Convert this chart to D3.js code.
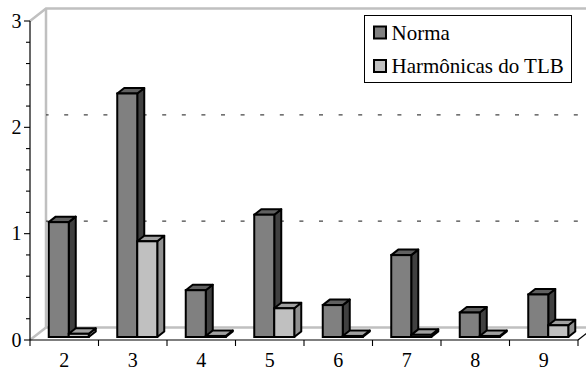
<!DOCTYPE html>
<html>
<head>
<meta charset="utf-8">
<script src="https://cdn.jsdelivr.net/npm/d3@7"></script>
<style>
  html, body { margin: 0; padding: 0; background: #fff; }
  svg { display: block; }
  svg text, #chart text { font-family: "Liberation Serif" !important; }
</style>
</head>
<body>
<svg id="chart" width="586" height="371" style="font-family: 'Liberation Serif'"></svg>
<script>
const categories = ["2", "3", "4", "5", "6", "7", "8", "9"];
const norma      = [1.08, 2.29, 0.44, 1.15, 0.30, 0.77, 0.23, 0.40];
const harmonicas = [0.03, 0.90, 0.01, 0.27, 0.01, 0.02, 0.01, 0.11];
const seriesNames = ["Norma", "Harmônicas do TLB"];
const yTickLabels = [0, 1, 2, 3];
const gridValues = [1, 2];

const FONT = '"Liberation Serif"';
const svg = d3.select("#chart");
const W = 586, H = 371;

const x = d3.scaleBand().domain(categories).range([30, 578]).padding(0);
const y = d3.scaleLinear().domain([0, 3]).range([340, 21]);

// depth projection
const wallDX = 16, wallDY = -12.5;      // back wall offset
const barOffX = 4.5, barOffY = -3;      // bar front face offset
const barDX = 7, barDY = -5.5;          // bar depth
const barW = 20;

const wallGray = "#c0c0c0";
const colors = {
  front: ["#808080", "#c0c0c0"],
  top:   ["#606060", "#a0a0a0"],
  side:  ["#404040", "#909090"]
};

// back wall & side wall (gray)
const g = svg.append("g");
const x0 = x.range()[0], x1 = x.range()[1];
const bx0 = x0 + wallDX;
const yb = v => y(v) + wallDY;
g.append("path")
  .attr("d", `M${x0},${y(3)} L${bx0},${yb(3)} L${W + 5},${yb(3)}`)
  .attr("fill", "none").attr("stroke", wallGray).attr("stroke-width", 2.5);
g.append("path")
  .attr("d", `M${bx0},${yb(3)} L${bx0},${yb(0)} L${W + 5},${yb(0)}`)
  .attr("fill", "none").attr("stroke", wallGray).attr("stroke-width", 2.5);
g.append("path")
  .attr("d", `M${x0},${y(0)} L${bx0},${yb(0)}`)
  .attr("fill", "none").attr("stroke", wallGray).attr("stroke-width", 2.5);

// dashed gridlines on the back wall
g.selectAll("line.grid").data(gridValues).enter().append("line")
  .attr("class", "grid")
  .attr("x1", bx0).attr("x2", W + 5)
  .attr("y1", d => yb(d)).attr("y2", d => yb(d))
  .attr("stroke", "#444").attr("stroke-width", 1.3)
  .attr("stroke-dasharray", "4,15.6")
  .attr("stroke-dashoffset", 1.4);

// front axes
const axG = svg.append("g");
axG.append("line").attr("x1", x0).attr("x2", x0).attr("y1", y(3)).attr("y2", y(0))
  .attr("stroke", "#000").attr("stroke-width", 1.2);
axG.append("line").attr("x1", x0).attr("x2", x1).attr("y1", y(0)).attr("y2", y(0))
  .attr("stroke", "#000").attr("stroke-width", 1.2);
axG.append("line").attr("x1", x1).attr("y1", y(0))
  .attr("x2", x1 + wallDX).attr("y2", y(0) + wallDY)
  .attr("stroke", "#000").attr("stroke-width", 1.2);

// y ticks (minor every 0.2, major each unit)
const minor = d3.range(0, 3.0001, 0.2);
axG.selectAll("line.ytick").data(minor).enter().append("line")
  .attr("x1", d => x0 - (Math.abs(d - Math.round(d)) < 1e-6 ? 6 : 4))
  .attr("x2", x0)
  .attr("y1", d => y(d)).attr("y2", d => y(d))
  .attr("stroke", "#000").attr("stroke-width", 1.1);
axG.selectAll("text.ylab").data(yTickLabels).enter().append("text")
  .attr("font-family", "Liberation Serif")
  .style("font-family", FONT).style("font-size", "20px")
  .attr("x", 21.5).attr("y", d => y(d))
  .attr("text-anchor", "end").attr("dy", "0.34em")
  .text(d => d);

// x ticks at category boundaries
const bounds = categories.map(c => x(c)).concat([x1]);
axG.selectAll("line.xtick").data(bounds).enter().append("line")
  .attr("x1", d => d).attr("x2", d => d)
  .attr("y1", y(0)).attr("y2", y(0) + 6)
  .attr("stroke", "#000").attr("stroke-width", 1.1);
axG.selectAll("text.xlab").data(categories).enter().append("text")
  .attr("font-family", "Liberation Serif")
  .style("font-family", FONT).style("font-size", "20px")
  .attr("x", d => x(d) + x.bandwidth() / 2).attr("y", 367)
  .attr("text-anchor", "middle")
  .text(d => d);

// bars
const barsG = svg.append("g");
const series = [norma, harmonicas];
categories.forEach((c, i) => {
  const cx = x(c) + x.bandwidth() / 2 + barOffX;
  series.forEach((vals, s) => {
    const v = vals[i];
    const left = cx - barW + s * barW;
    const right = left + barW;
    const base = y(0) + barOffY;
    const top = y(v) + barOffY;
    const bg = barsG.append("g");
    bg.append("path")
      .attr("d", `M${right},${top} L${right + barDX},${top + barDY} L${right + barDX},${base + barDY} L${right},${base} Z`)
      .attr("fill", colors.side[s]).attr("stroke", "#000").attr("stroke-width", 2).attr("stroke-linejoin", "round");
    bg.append("path")
      .attr("d", `M${left},${top} L${left + barDX},${top + barDY} L${right + barDX},${top + barDY} L${right},${top} Z`)
      .attr("fill", colors.top[s]).attr("stroke", "#000").attr("stroke-width", 2).attr("stroke-linejoin", "round");
    bg.append("rect")
      .attr("x", left).attr("y", top).attr("width", barW).attr("height", base - top)
      .attr("fill", colors.front[s]).attr("stroke", "#000").attr("stroke-width", 2);
  });
});

// legend
const lg = svg.append("g");
lg.append("rect").attr("x", 364.5).attr("y", 15.5).attr("width", 207).attr("height", 67)
  .attr("fill", "#fff").attr("stroke", "#000").attr("stroke-width", 1);
const rowsY = [32.5, 66];
seriesNames.forEach((name, s) => {
  lg.append("rect").attr("x", 374).attr("y", rowsY[s] - 6).attr("width", 12).attr("height", 12)
    .attr("fill", colors.front[s]).attr("stroke", "#000").attr("stroke-width", 2);
  lg.append("text").attr("font-family", "Liberation Serif")
    .style("font-family", FONT).style("font-size", "21px")
    .attr("x", 391.5).attr("y", rowsY[s] + 7).text(name);
});
</script>
</body>
</html>
